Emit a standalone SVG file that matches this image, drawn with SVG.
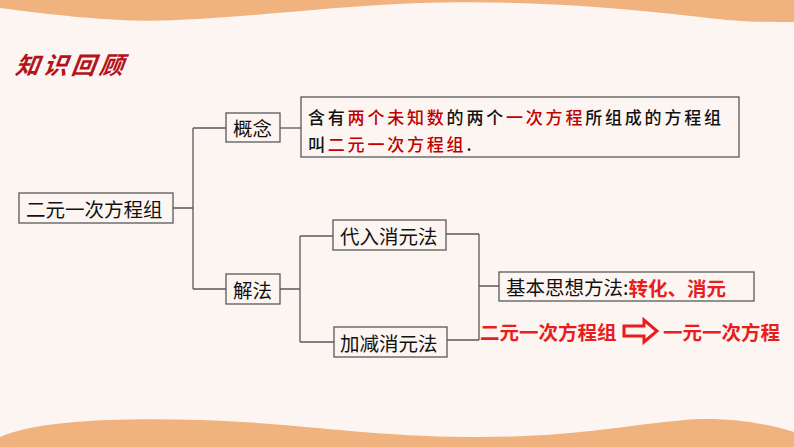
<svg xmlns="http://www.w3.org/2000/svg" width="794" height="447" viewBox="0 0 794 447">
<style>
.box{fill:none;stroke:#595959;stroke-width:1.3}
.ln{fill:none;stroke:#595959;stroke-width:1.3}
.t{font-family:"Noto Sans CJK SC","Noto Sans",sans-serif;font-size:19.5px;fill:#111;dominant-baseline:central}
.c{font-family:"Noto Sans CJK SC","Noto Sans",sans-serif;font-size:17px;font-weight:500;fill:#111;letter-spacing:2.8px}
.r{fill:#C00000}
.rb{font-family:"Noto Sans CJK SC","Noto Sans",sans-serif;font-size:19.5px;font-weight:bold;fill:#E81E1E;dominant-baseline:central}
</style>
<rect width="794" height="447" fill="#FDF5F1"/>
<path d="M0 0H794V22C760 22 740 22 700 17C600 5 500 0 420 3C300 8 200 24 120 20C80 18 30 12 0 8Z" fill="#F0B27F"/>
<path d="M0 447V437C40 420 120 418 200 420C300 423 360 436 470 437C580 438 640 422 700 419C740 418 770 425 794 432V447Z" fill="#F0B27F"/>
<text x="15" y="74" font-family="Noto Sans CJK SC,sans-serif" font-size="24" font-weight="bold" font-style="italic" fill="#B5121B" letter-spacing="4" transform="skewX(-8) translate(10,0)">知识回顾</text>
<g id="connectors">
<path class="ln" d="M173 208H193M193 128V289M193 128H226M193 289H226"/>
<path class="ln" d="M280 128H301"/>
<path class="ln" d="M280 289H300M300 236V342M300 236H333M300 342H334"/>
<path class="ln" d="M446 234H479M447 340H479M479 234V340M479 286H499"/>
</g>
<g id="root"><rect class="box" x="19" y="193" width="154" height="30"/><text class="t" x="26" y="208">二元一次方程组</text></g>
<g id="concept"><rect class="box" x="226" y="113" width="54" height="29"/><text class="t" x="233" y="127.5">概念</text></g>
<g id="method"><rect class="box" x="226" y="274" width="54" height="30"/><text class="t" x="233" y="289">解法</text></g>
<g id="definition"><rect class="box" x="301" y="97" width="438" height="60"/>
<text class="c" x="308" y="124">含有<tspan class="r">两个未知数</tspan>的两个<tspan class="r">一次方程</tspan>所组成的方程组</text>
<text class="c" x="308" y="151" letter-spacing="2">叫<tspan class="r">二元一次方程组</tspan>.</text></g>
<g id="substitution"><rect class="box" x="333" y="220" width="113" height="30"/><text class="t" x="340" y="235">代入消元法</text></g>
<g id="elimination"><rect class="box" x="334" y="327" width="113" height="30"/><text class="t" x="340" y="342">加减消元法</text></g>
<g id="idea"><rect class="box" x="499" y="272" width="255" height="29"/><text class="t" x="506" y="286.5">基本思想方法:<tspan class="rb">转化、消元</tspan></text></g>
<g id="transform">
<text class="rb" x="480" y="331">二元一次方程组</text>
<polygon points="624,326 644,326 644,320 657,331 644,342 644,336 624,336" fill="none" stroke="#E81E1E" stroke-width="3"/>
<text class="rb" x="663" y="331">一元一次方程</text>
</g>
</svg>
